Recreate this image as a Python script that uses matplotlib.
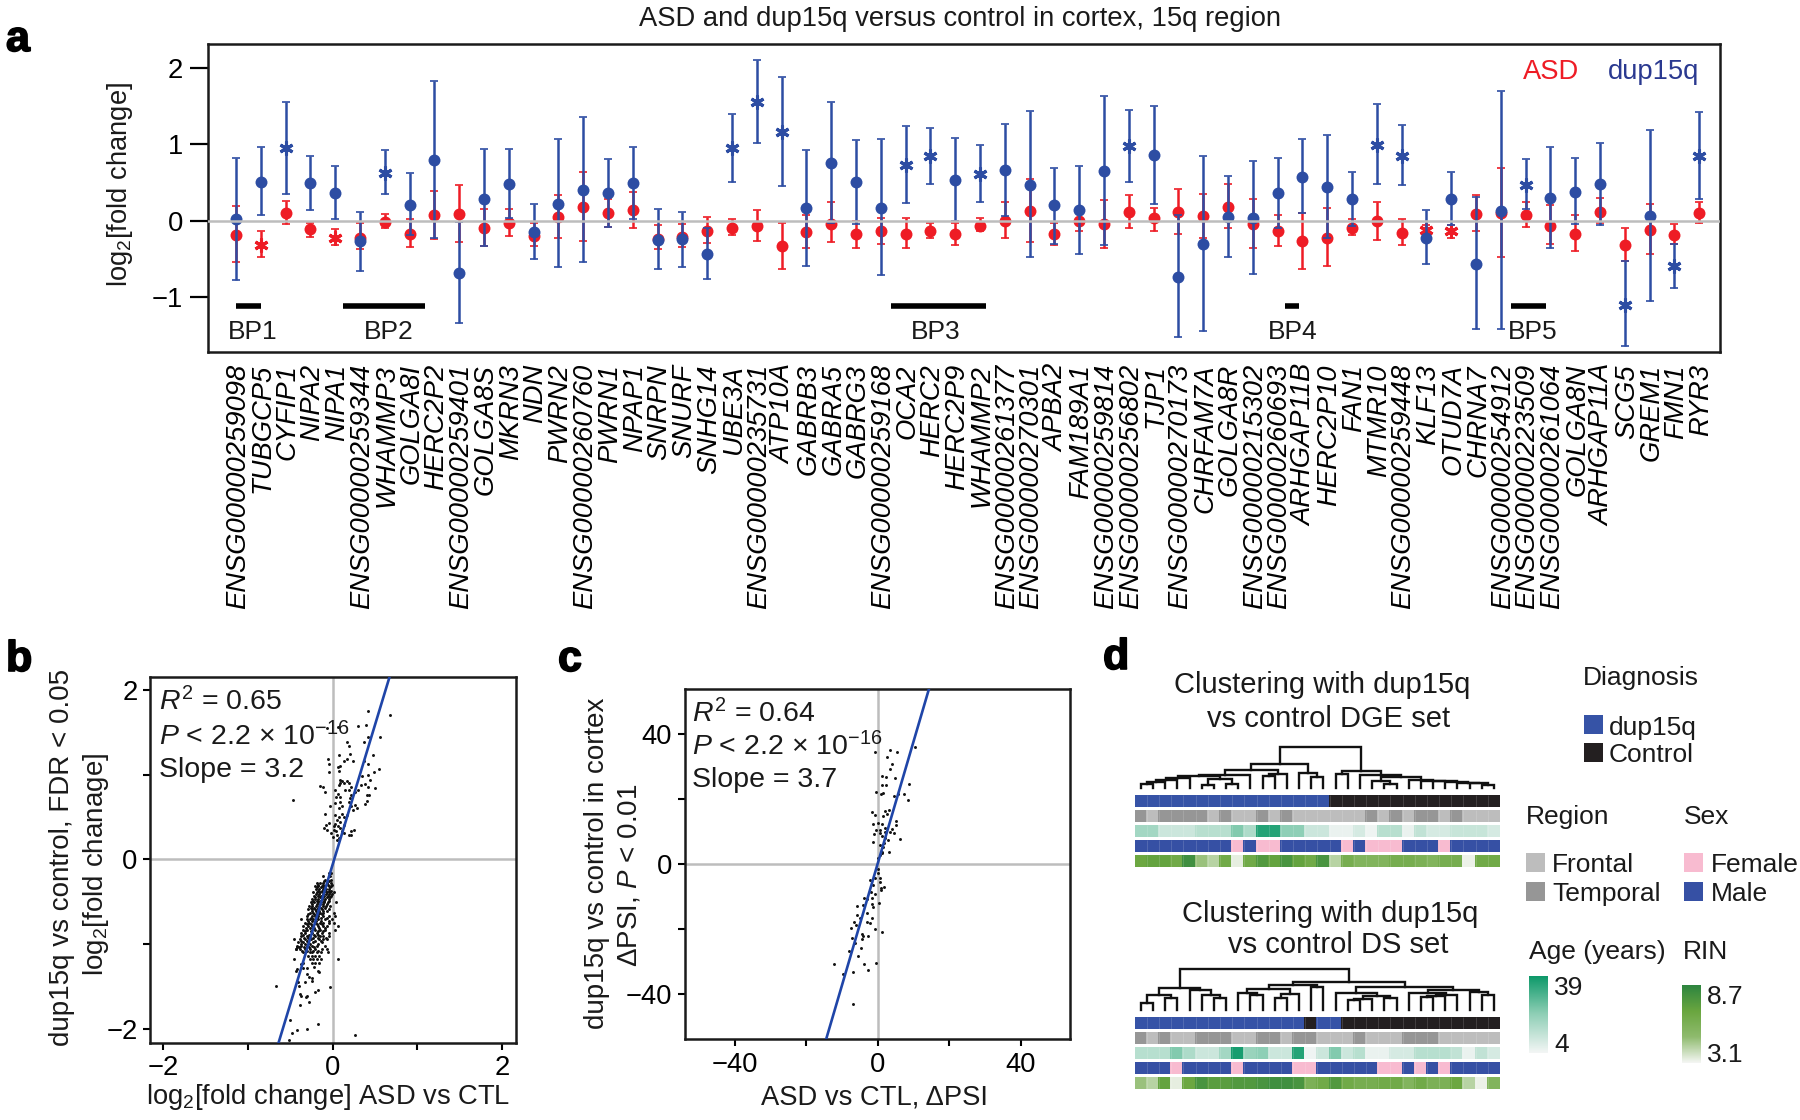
#!/usr/bin/env python

# ASD and dup15q versus control, 15q region: four panels

import numpy as np
import matplotlib
matplotlib.use('Agg')
from matplotlib import pyplot as plt
from matplotlib import patheffects
from matplotlib.colors import LinearSegmentedColormap, ListedColormap
from matplotlib.transforms import ScaledTranslation

plt.rcParams['font.family'] = ['Liberation Sans', 'DejaVu Sans']
plt.rcParams['mathtext.fontset'] = 'custom'
plt.rcParams['mathtext.rm'] = 'Liberation Sans'
plt.rcParams['mathtext.it'] = 'Liberation Sans:italic'
plt.rcParams['mathtext.bf'] = 'Liberation Sans:bold'

W, H = 1800, 1120
FS = 19.7
FS_KEY = 19

# panel a
genes = ['ENSG00000259098', 'TUBGCP5', 'CYFIP1', 'NIPA2', 'NIPA1', 'ENSG00000259344',
         'WHAMMP3', 'GOLGA8I', 'HERC2P2', 'ENSG00000259401', 'GOLGA8S', 'MKRN3', 'NDN',
         'PWRN2', 'ENSG00000260760', 'PWRN1', 'NPAP1', 'SNRPN', 'SNURF', 'SNHG14', 'UBE3A',
         'ENSG00000235731', 'ATP10A', 'GABRB3', 'GABRA5', 'GABRG3', 'ENSG00000259168',
         'OCA2', 'HERC2', 'HERC2P9', 'WHAMMP2', 'ENSG00000261377', 'ENSG00000270301',
         'APBA2', 'FAM189A1', 'ENSG00000259814', 'ENSG00000256802', 'TJP1',
         'ENSG00000270173', 'CHRFAM7A', 'GOLGA8R', 'ENSG00000215302', 'ENSG00000260693',
         'ARHGAP11B', 'HERC2P10', 'FAN1', 'MTMR10', 'ENSG00000259448', 'KLF13', 'OTUD7A',
         'CHRNA7', 'ENSG00000254912', 'ENSG00000223509', 'ENSG00000261064', 'GOLGA8N',
         'ARHGAP11A', 'SCG5', 'GREM1', 'FMN1', 'RYR3']

dup_mean = [0.02, 0.51, 0.95, 0.49, 0.36, -0.27, 0.63, 0.21, 0.79, -0.68, 0.29, 0.48, -0.15, 0.22,
            0.40, 0.36, 0.49, -0.25, -0.24, -0.43, 0.95, 1.55, 1.16, 0.16, 0.75, 0.50, 0.17, 0.73,
            0.84, 0.53, 0.61, 0.66, 0.47, 0.20, 0.14, 0.65, 0.98, 0.86, -0.73, -0.30, 0.05, 0.04,
            0.36, 0.57, 0.44, 0.28, 0.99, 0.85, -0.22, 0.28, -0.57, 0.13, 0.47, 0.30, 0.38, 0.48,
            -1.10, 0.06, -0.59, 0.84]
dup_hi = [0.82, 0.96, 1.55, 0.85, 0.72, 0.12, 0.92, 0.62, 1.82, -0.02, 0.94, 0.94, 0.22, 1.07,
          1.35, 0.81, 0.97, 0.15, 0.12, -0.09, 1.39, 2.10, 1.88, 0.92, 1.55, 1.05, 1.07, 1.24,
          1.21, 1.08, 0.99, 1.27, 1.44, 0.69, 0.72, 1.63, 1.45, 1.50, 0.08, 0.85, 0.59, 0.78,
          0.82, 1.07, 1.12, 0.64, 1.52, 1.25, 0.14, 0.64, 0.31, 1.69, 0.81, 0.97, 0.82, 1.02,
          -0.53, 1.19, -0.30, 1.42]
dup_lo = [-0.78, 0.07, 0.35, 0.14, 0.02, -0.66, 0.35, -0.19, -0.22, -1.34, -0.33, 0.03, -0.50, -0.61,
          -0.54, -0.08, 0.02, -0.63, -0.60, -0.76, 0.51, 1.02, 0.45, -0.59, -0.03, -0.04, -0.71, 0.23,
          0.48, 0.00, 0.25, 0.06, -0.48, -0.30, -0.44, -0.32, 0.51, 0.22, -1.52, -1.44, -0.48, -0.69,
          -0.10, 0.10, -0.22, -0.07, 0.48, 0.47, -0.56, -0.05, -1.42, -1.42, 0.15, -0.36, -0.04, -0.05,
          -1.64, -1.05, -0.88, 0.28]
asd_mean = [-0.19, -0.32, 0.10, -0.11, -0.22, -0.22, -0.02, -0.17, 0.07, 0.09, -0.10, -0.03, -0.20, 0.05,
            0.18, 0.10, 0.14, -0.24, -0.21, -0.13, -0.09, -0.07, -0.33, -0.15, -0.04, -0.18, -0.14, -0.17,
            -0.13, -0.18, -0.07, 0.00, 0.13, -0.17, -0.01, -0.04, 0.11, 0.03, 0.11, 0.06, 0.18, -0.04,
            -0.14, -0.27, -0.22, -0.09, -0.01, -0.16, -0.12, -0.14, 0.09, 0.10, 0.08, -0.07, -0.17, 0.12,
            -0.32, -0.12, -0.19, 0.10]
asd_hi = [0.19, -0.14, 0.26, -0.03, -0.11, -0.03, 0.09, 0.02, 0.39, 0.47, 0.15, 0.15, -0.03, 0.34,
          0.64, 0.29, 0.37, -0.06, -0.04, 0.05, 0.02, 0.14, -0.03, 0.07, 0.24, 0.00, 0.04, 0.03,
          -0.03, -0.03, 0.04, 0.25, 0.55, -0.03, 0.14, 0.27, 0.34, 0.17, 0.42, 0.35, 0.48, 0.29,
          0.07, 0.10, 0.17, 0.02, 0.24, 0.02, -0.06, -0.06, 0.34, 0.69, 0.25, 0.20, 0.07, 0.30,
          -0.10, 0.22, -0.04, 0.25]
asd_lo = [-0.54, -0.47, -0.04, -0.21, -0.32, -0.37, -0.10, -0.34, -0.24, -0.28, -0.33, -0.20, -0.33, -0.23,
          -0.26, -0.08, -0.09, -0.37, -0.34, -0.29, -0.19, -0.26, -0.63, -0.36, -0.28, -0.36, -0.30, -0.36,
          -0.22, -0.32, -0.14, -0.23, -0.28, -0.32, -0.14, -0.35, -0.10, -0.13, -0.17, -0.23, -0.10, -0.36,
          -0.33, -0.63, -0.59, -0.19, -0.25, -0.32, -0.17, -0.23, -0.14, -0.47, -0.08, -0.31, -0.40, -0.03,
          -0.53, -0.44, -0.30, -0.03]
dup_star = [2, 6, 20, 21, 22, 27, 28, 30, 36, 46, 47, 52, 56, 58, 59]
asd_star = [1, 4, 48, 49]

bp_names = ['BP1', 'BP2', 'BP3', 'BP4', 'BP5']
bp_start = [0.0, 4.3, 26.4, 42.3, 51.4]
bp_end = [1.0, 7.64, 30.26, 42.88, 52.84]
bp_label = [0.67, 6.17, 28.2, 42.6, 52.3]

# panel b
b_up_x = [.41, .67, .06, -.07, .30, .39, .41, .56, .37, .17, .19, .20, .07, .48, -.06, -.05, -.05, .17, .13,
          .24, .37, .42, .08, .06, .07, .54, .49, .42, .35, .44, -.15, -.12, -.09, -.47, .09, .11, .08, .07,
          .13, .17, .19, .21, .03, .06, .09, .15, .19, .22, .20, .30, .26, .38, .41, .50, .33, .40, .43, .40,
          .38, .04, .09, .03, -.03, .11, .07, .19, .21, .26, .29, .24, -.09, .03, .07, .11, .13, .17, .05,
          .09, -.05, -.08, -.10, -.07, .03, .06, .02, .08, .13, -.02, 0.0, .05, .07, .05, .11, .13, .19, .25,
          .21, .22, .04, .01]
b_up_y = [1.75, 1.71, 1.56, 1.55, 1.57, 1.59, 1.45, 1.44, 1.38, 1.38, 1.34, 1.24, 1.23, 1.23, 1.18, 1.12, 1.03,
          1.19, 1.16, 1.16, 1.16, 1.13, 1.10, 1.09, 1.04, 1.07, 1.03, 1.00, .98, .94, .87, .85, .80, .70, .94,
          .92, .90, .88, .90, .93, .90, .85, .82, .77, .74, .82, .82, .76, .72, .82, .80, .89, .85, .84, .88,
          .76, .76, .69, .65, .74, .68, .66, .63, .63, .60, .68, .63, .64, .61, .58, .54, .52, .50, .54, .50,
          .52, .46, .44, .43, .41, .37, .35, .42, .39, .35, .37, .41, .31, .26, .29, .25, .23, .33, .31, .29,
          .35, .33, .29, .33, .39]

# lower cloud of panel b, read row by row: one y value, the x values at that height
b_low_rows_y = [-.16, -.20, -.24, -.28, -.31, -.35, -.39, -.43, -.47, -.51, -.55, -.59, -.63, -.67, -.71, -.75,
                -.79, -.83, -.87, -.91, -.94, -.98, -1.02, -1.06, -1.10, -1.14, -1.18, -1.22]
b_low_rows_x = [[-.05, -.02], [-.11, -.05, -.03], [-.09, -.02],
                [-.19, -.15, -.11, -.07, -.02], [-.21, -.17, -.13, -.09, -.05, -.02],
                [-.20, -.16, -.12, -.08, -.04], [-.23, -.19, -.15, -.11, -.07, -.03, .02],
                [-.22, -.18, -.14, -.10, -.06, -.02], [-.25, -.21, -.17, -.13, -.09, -.05],
                [-.26, -.22, -.18, -.14, -.10, -.06, .04], [-.28, -.24, -.20, -.16, -.12, -.08, -.03],
                [-.29, -.25, -.21, -.17, -.13, -.05], [-.27, -.23, -.19, -.15, -.11, .02],
                [-.30, -.25, -.21, -.17, -.12, -.05, .03], [-.37, -.31, -.27, -.23, -.17, -.09, -.01],
                [-.33, -.28, -.21, -.15, -.11, -.05, .02], [-.35, -.29, -.24, -.18, -.12, -.07, .06],
                [-.35, -.30, -.21, -.15, -.09, .03], [-.38, -.33, -.25, -.19, -.13, -.05],
                [-.37, -.31, -.27, -.21, -.15, -.11, -.05], [-.46, -.39, -.33, -.26, -.16, -.12, -.07],
                [-.41, -.35, -.29, -.23, -.13], [-.42, -.37, -.31, -.25, -.19, -.09],
                [-.44, -.39, -.33, -.27, -.21, -.13, -.07], [-.35, -.27, -.24, -.19, -.14, -.06],
                [-.29, -.25, -.21, -.16], [-.46, -.27, -.23, -.19, -.14], [-.35, -.25, -.21, -.16]]
# second pass over the darkest part of the cloud
b_dense_y = [-.26, -.30, -.33, -.37, -.41, -.45, -.49, -.53, -.57, -.61, -.65, -.69, -.73, -.77, -.81, -.85, -.89,
             -.93, -.96, -1.00, -1.04, -1.08]
b_dense_x = [[-.10, -.04], [-.17, -.12, -.06, -.01], [-.19, -.14, -.10, -.03], [-.18, -.13, -.09, -.05, -.02],
             [-.20, -.16, -.12, -.08, -.04, -.01], [-.21, -.15, -.11, -.07, -.03], [-.23, -.19, -.15, -.10, -.04],
             [-.24, -.19, -.15, -.11, -.07], [-.26, -.22, -.18, -.14, -.09], [-.24, -.20, -.16, -.12, -.07],
             [-.29, -.22, -.18, -.13], [-.26, -.19, -.14, -.07], [-.29, -.25, -.20, -.14, -.04],
             [-.31, -.26, -.19, -.13], [-.32, -.27, -.22, -.16, -.09], [-.33, -.26, -.18, -.11],
             [-.35, -.28, -.22, -.17], [-.34, -.29, -.23, -.17, -.08], [-.37, -.30, -.21, -.14],
             [-.38, -.33, -.27, -.18], [-.40, -.34, -.28, -.22], [-.36, -.30, -.23, -.17]]
b_out_x = [-.67, .06, -.03, -.50, -.18, -.30, -.42, -.48, .26, -.52, -.39, -.28, -.21, -.18, -.39, -.37, -.32,
           -.31, -.40, -.41, -.33, -.25, -.28, -.25, -.30, -.44, -.42, -.37, -.35, -.30, -.22, -.18, -.16, -.43, -.42]
b_out_y = [-1.50, -1.18, -1.51, -1.90, -1.94, -2.00, -2.02, -2.05, -2.07, -2.14, -1.72, -1.69, -1.57, -1.54, -1.59,
           -1.62, -1.63, -1.61, -1.50, -1.45, -1.45, -1.44, -1.39, -1.40, -1.36, -1.32, -1.30, -1.24, -1.28, -1.28,
           -1.27, -1.32, -1.33, -1.06, -1.03]
b_fit_x = [-0.64, 0.672]
b_fit_y = [-2.166, 2.16]

# panel c
c_x = [-.9, 3.5, 5.4, 2.5, 4.1, 3.3, 10.3, 1.3, 2.3, 4.9, 8.8, 1.1, 2.3, -.4, 1.4, 1.0, 4.4, 5.6, 7.3, 8.4, -1.6, -.8,
       2.0, 3.1, 2.7, 1.6, 5.1, 5.1, -1.3, 1.1, .2, 2.1, .7, -.6, -1.1, .5, 3.9, 4.6, 3.5, 2.1, 1.1, 2.1, 3.0, 6.3, -1.3,
       1.8, .7, 1.4, 3.1, 1.1, .7, 1.3, .2, .2, .2, .5, -2.3, -.7, -1.4, .7, 1.8, .9, 1.0, -1.9, -.9, -1.5, -3.8, -2.9, .4,
       -1.7, -1.4, -5.9, -4.0, -3.1, -1.6, -5.7, -5.1, -6.7, -2.9, -2.1, -6.0, -7.4, -.9, 1.3, -4.5, -4.0, -2.6, -7.3, -4.5,
       -6.3, -4.7, -8.0, -5.5, -12.2, -3.8, -.6, -9.8, -6.8, -2.8, -7.0]
c_y = [34.5, 35.2, 34.4, 33.1, 30.8, 29.2, 36.0, 27.2, 26.8, 26.4, 24.7, 24.2, 24.2, 22.3, 22.0, 21.5, 21.0, 21.6, 21.6, 19.7,
       16.0, 15.1, 16.3, 16.5, 15.3, 14.8, 13.2, 12.0, 12.3, 12.2, 12.7, 11.0, 10.5, 10.5, 9.2, 9.4, 10.7, 9.4, 10.0, 9.8, 8.6,
       7.9, 7.4, 7.6, 6.9, 6.4, 5.9, 5.3, 3.8, 3.8, 2.8, 3.3, 1.7, -1.5, -2.9, -4.2, -4.8, -4.2, -6.5, -5.4, -7.2, -8.0, -7.5,
       -8.5, -9.3, -10.4, -10.6, -10.8, -12.1, -12.3, -13.2, -12.8, -12.6, -15.2, -16.5, -15.8, -16.5, -18.0, -18.0, -18.3, -18.8,
       -19.6, -20.1, -21.0, -21.7, -22.2, -22.3, -22.7, -23.1, -24.4, -26.0, -26.7, -28.2, -30.7, -30.8, -30.5, -34.0, -33.2,
       -32.8, -43.1]
c_fit_x = [-14.4, 14.3]
c_fit_y = [-53.9, 53.9]

# panel d, upper block. Diagnosis 0 dup15q 1 control, region 0 frontal 1 temporal, sex 0 female 1 male
d1_diag = [0] * 16 + [1] * 14
d1_region = [1, 0, 1, 1, 1, 1, 0, 1, 0, 0, 1, 0, 1, 0, 0, 0, 0, 0, 0, 1, 0, 1, 0, 1, 1, 0, 1, 0, 0, 0]
d1_age = [.4, .4, .2, .2, .2, .3, .3, .3, .55, .35, .9, .9, .5, .5, .2, .2, .05, .05, .15, .03, .3, .3, .05, .25, .15, .15,
          .22, .22, .22, .15]
d1_sex = [1, 1, 1, 1, 1, 1, 1, 1, 0, 1, 0, 0, 1, 1, 1, 1, 1, 0, 1, 0, 0, 0, 1, 1, 1, 0, 1, 1, 1, 1]
d1_rin = [.65, .7, .7, .6, .9, .3, .2, .6, .05, .6, .8, .7, .85, .7, .6, .85, .2, .55, .45, .45, .45, .55, .55, .5, .45, .55,
          .55, .03, .6, .6]
# panel d, lower block
d2_diag = [0] * 14 + [1] + [0] * 2 + [1] * 13
d2_region = [1, 0, 1, 0, 0, 1, 1, 1, 0, 0, 1, 1, 0, 1, 1, 0, 0, 0, 1, 0, 0, 0, 1, 1, 1, 0, 0, 0, 0, 0]
d2_age = [.3, .3, .3, .55, .35, .2, .2, .4, .95, .45, .5, .2, .2, .9, .02, .2, .55, .2, .3, .05, .05, .15, .15, .3, .3, .3,
          .25, .05, .25, .15]
d2_sex = [1, 1, 1, 0, 1, 1, 1, 1, 0, 1, 1, 1, 1, 0, 0, 1, 1, 1, 1, 1, 0, 0, 1, 0, 1, 0, 1, 1, 1, 1]
d2_rin = [.3, .2, .7, .05, .65, .85, .75, .75, .8, .8, .85, .9, .9, .85, .5, .6, .8, .6, .55, .55, .6, .6, .45, .6, .5, .5,
          .65, .2, .03, .45]

# dendrogram merges: left column, right column, height, left child height, right child height
d1_links = [(0, 1, 12, 0, 0), (.5, 2, 18, 12, 0), (1.25, 3, 24, 18, 0), (2.1, 4, 30, 24, 0), (5, 6, 10, 0, 0), (7, 8, 12, 0, 0),
            (5.5, 7.5, 28, 10, 12), (3.05, 6.5, 36, 30, 28), (4.78, 9, 38, 36, 0), (10, 11, 36, 0, 0), (10.5, 12, 42, 36, 0),
            (6.9, 11.25, 55, 38, 42), (14, 15, 32, 0, 0), (13, 14.5, 45, 0, 32), (9.05, 13.75, 73, 55, 45), (16, 17, 42, 0, 0),
            (20, 21, 12, 0, 0), (19, 20.5, 20, 0, 12), (28, 29, 10, 0, 0), (27, 28.5, 14, 0, 10), (26, 27.75, 16, 0, 14),
            (25, 26.9, 18, 0, 16), (24, 25.95, 20, 0, 18), (23, 25, 22, 0, 20), (22, 24, 25, 0, 22), (19.75, 23, 33, 20, 25),
            (18, 21.4, 40, 0, 33), (16.5, 19.7, 50, 42, 40), (11.4, 18.1, 123, 73, 50)]
d2_links = [(0, 1, 22, 0, 0), (2, 3, 35, 0, 0), (.5, 2.5, 45, 22, 35), (6, 7, 35, 0, 0), (5, 6.5, 45, 0, 35), (4, 5.75, 60, 0, 45),
            (1.5, 4.875, 65, 45, 60), (9, 10, 46, 0, 0), (8, 9.5, 50, 0, 46), (11, 12, 35, 0, 0), (11.5, 13, 48, 35, 0),
            (8.75, 12.25, 62, 50, 48), (14, 15, 70, 0, 0), (10.5, 14.5, 76, 62, 70), (17, 18, 30, 0, 0), (17.5, 19, 33, 30, 0),
            (20, 21, 35, 0, 0), (18.25, 20.5, 42, 33, 35), (16, 19.4, 50, 0, 42), (23, 24, 38, 0, 0), (23.5, 25, 42, 38, 0),
            (24.25, 26, 46, 42, 0), (22, 25.1, 50, 0, 46), (28, 29, 45, 0, 0), (27, 28.5, 55, 0, 45), (23.55, 27.75, 60, 50, 55),
            (17.7, 25.65, 68, 50, 60), (12.5, 21.7, 85, 76, 68), (3.19, 17.1, 123, 65, 85)]

BLUE = '#2d4da3'
RED = '#ee1c25'
GREY = '#bdbdbd'
DUP = '#3653a6'
CTRL = '#231f20'
FRONTAL = '#bdbdbd'
TEMPORAL = '#969696'
FEMALE = '#f8bbd0'
MALE = '#3650a4'

age_cmap = LinearSegmentedColormap.from_list('age', ['#f3f6f5', '#8fcfb6', '#0b9868'])
rin_cmap = LinearSegmentedColormap.from_list('rin', ['#f4f6f3', '#8fbb6e', '#6aa63f', '#2e8540'])

fig = plt.figure(figsize=(W / 100, H / 100), dpi=100)


def px_axes(left, top, right, bottom):
    return fig.add_axes([left / W, 1 - bottom / H, (right - left) / W, (bottom - top) / H])


def px_text(x, y, s, **kwargs):
    kwargs.setdefault('fontsize', FS)
    kwargs.setdefault('va', 'center')
    kwargs.setdefault('color', '#1a1a1a')
    return fig.text(x / W, 1 - (y + 2) / H, s, **kwargs)


def panel_letter(x, y, s):
    t = px_text(x, y, s, fontsize=31, fontweight='bold', color='black')
    t.set_path_effects([patheffects.withStroke(linewidth=1.2, foreground='black')])


def frame(ax, lw=1.8):
    for s in ax.spines.values():
        s.set_linewidth(lw)
        s.set_color('#1a1a1a')


def draw_errors(ax, x, mean, lo, hi, stars, color, z):
    x = np.asarray(x)
    mean, lo, hi = np.asarray(mean), np.asarray(lo), np.asarray(hi)
    is_star = np.isin(x, stars)
    ax.errorbar(x, mean, yerr=[mean - lo, hi - mean], fmt='none', ecolor=color, elinewidth=1.8,
                capsize=3, capthick=1.2, zorder=z)
    ax.plot(x[~is_star], mean[~is_star], 'o', color=color, ms=8.6, mew=0, zorder=z)
    ax.plot(x[is_star], mean[is_star], ls='none', marker=(6, 2, 0), color=color, ms=10, mew=2.2, zorder=z)
    ax.plot(x[is_star], mean[is_star], 'o', color=color, ms=5.5, mew=0, zorder=z)


# panel a
ax = px_axes(208, 44, 1720, 351.7)
idx = np.arange(len(genes))
draw_errors(ax, idx, asd_mean, asd_lo, asd_hi, asd_star, RED, 3)
draw_errors(ax, idx, dup_mean, dup_lo, dup_hi, dup_star, BLUE, 4)
ax.axhline(0, color=GREY, lw=1.8, zorder=5)
for name, start, end, lab in zip(bp_names, bp_start, bp_end, bp_label):
    ax.plot([start, end], [-1.115, -1.115], color='black', lw=4, solid_capstyle='butt')
    ax.text(lab, -1.45, name, ha='center', va='center', fontsize=FS_KEY, color='#1a1a1a')
ax.set_xlim(-1.125, 59.84)
ax.set_ylim(-1.712, 2.31)
ax.set_yticks([-1, 0, 1, 2])
ax.set_yticklabels(['\u22121', '0', '1', '2'], fontsize=FS)
ax.tick_params(axis='y', length=13, width=1.6, pad=5)
ax.set_xticks(idx)
ax.set_xticklabels(genes, rotation=90, style='italic', fontsize=FS, ha='center', va='top')
ax.tick_params(axis='x', length=0, pad=9)
shift = ScaledTranslation(1.5 / 72, 0, fig.dpi_scale_trans)
for label in ax.get_xticklabels():
    label.set_transform(label.get_transform() + shift)
frame(ax)
ax.text(0.888, 0.91, 'ASD', color=RED, transform=ax.transAxes, ha='center', va='center', fontsize=FS)
ax.text(0.956, 0.91, 'dup15q', color='#2a3990', transform=ax.transAxes, ha='center', va='center', fontsize=FS)
px_text(960, 17, 'ASD and dup15q versus control in cortex, 15q region', ha='center')
px_text(120, 182, 'log$_2$[fold change]', rotation=90, ha='center')
panel_letter(6, 38, 'a')

# panel b
ax = px_axes(150, 677, 516, 1042.7)
ax.axhline(0, color=GREY, lw=1.8, zorder=1)
ax.axvline(0, color=GREY, lw=1.8, zorder=1)
low_x = np.concatenate(b_low_rows_x + b_dense_x)
low_y = np.concatenate([[y] * len(r) for y, r in zip(b_low_rows_y + b_dense_y, b_low_rows_x + b_dense_x)])
ax.scatter(b_up_x, b_up_y, s=4.5, color='#111111', lw=0, zorder=2)
ax.scatter(low_x, low_y, s=4.5, color='#111111', lw=0, zorder=2)
ax.scatter(b_out_x, b_out_y, s=4.5, color='#111111', lw=0, zorder=2)
ax.plot(b_fit_x, b_fit_y, color='#1f45a8', lw=1.9, zorder=3)
ax.set_xlim(-2.158, 2.163)
ax.set_ylim(-2.166, 2.153)
ax.set_xticks([-2, -1, 0, 1, 2])
ax.set_xticklabels(['\u22122', '', '0', '', '2'], fontsize=FS)
ax.set_yticks([-2, -1, 0, 1, 2])
ax.set_yticklabels(['\u22122', '', '0', '', '2'], fontsize=FS)
ax.tick_params(length=5, width=1.5, pad=4)
frame(ax)
px_text(159, 700, '$\\mathit{R}^2$ = 0.65', fontsize=20.5)
px_text(159, 735, '$\\mathit{P}$ < 2.2 \u00d7 10$^{\u221216}$', fontsize=20.5)
px_text(159, 768, 'Slope = 3.2', fontsize=20.5)
px_text(62, 855, 'dup15q vs control, FDR < 0.05', rotation=90, ha='center', fontsize=20)
px_text(96, 862, 'log$_2$[fold chanage]', rotation=90, ha='center', fontsize=20)
px_text(328, 1095, 'log$_2$[fold change] ASD vs CTL', ha='center')
panel_letter(6, 658, 'b')

# panel c
ax = px_axes(684.8, 689, 1070, 1039)
ax.axhline(0, color=GREY, lw=1.8, zorder=1)
ax.axvline(0, color=GREY, lw=1.8, zorder=1)
ax.scatter(c_x, c_y, s=4.5, color='#111111', lw=0, zorder=2)
ax.plot(c_fit_x, c_fit_y, color='#1f45a8', lw=1.9, zorder=3)
ax.set_xlim(-53.9, 53.7)
ax.set_ylim(-53.9, 53.9)
ax.set_xticks([-40, -20, 0, 20, 40])
ax.set_xticklabels(['\u221240', '', '0', '', '40'], fontsize=FS)
ax.set_yticks([-40, -20, 0, 20, 40])
ax.set_yticklabels(['\u221240', '', '0', '', '40'], fontsize=FS)
ax.tick_params(length=5, width=1.5, pad=4)
frame(ax)
px_text(692, 712, '$\\mathit{R}^2$ = 0.64', fontsize=20.5)
px_text(692, 745, '$\\mathit{P}$ < 2.2 \u00d7 10$^{\u221216}$', fontsize=20.5)
px_text(692, 778, 'Slope = 3.7', fontsize=20.5)
px_text(597, 861, 'dup15q vs control in cortex', rotation=90, ha='center', fontsize=20)
px_text(630, 873, '\u0394PSI, $\\mathit{P}$ < 0.01', rotation=90, ha='center', fontsize=20)
px_text(874, 1095, 'ASD vs CTL, \u0394PSI', ha='center')
panel_letter(558, 658, 'c')


# panel d
def draw_strip(top, values, cmap, vmin=0, vmax=1):
    ax = px_axes(1134.8, top, 1500, top + 12)
    ax.pcolormesh(np.arange(len(values) + 1), [0, 1], [values], cmap=cmap, vmin=vmin, vmax=vmax,
                  edgecolors='face', linewidth=0.3)
    ax.vlines(np.arange(1, len(values)), 0, 1, color='white', lw=0.5, alpha=0.2)
    ax.axis('off')


def draw_block(top, diag, region, age, sex, rin):
    draw_strip(top, diag, ListedColormap([DUP, CTRL]))
    draw_strip(top + 15, region, ListedColormap([FRONTAL, TEMPORAL]))
    draw_strip(top + 30, age, age_cmap)
    draw_strip(top + 45, sex, ListedColormap([FEMALE, MALE]))
    draw_strip(top + 60, rin, rin_cmap)


def draw_dendrogram(top, bottom, links):
    ax = px_axes(1134.8, top, 1500, bottom)
    for xl, xr, h, hl, hr in links:
        ax.plot([xl + .5, xl + .5, xr + .5, xr + .5], [hl, h, h, hr], color='#111111', lw=1.7,
                solid_joinstyle='miter', clip_on=False)
    ax.set_xlim(0, 30)
    ax.set_ylim(0, 123)
    ax.axis('off')


def swatch(x, y, color):
    ax = px_axes(x, y, x + 19, y + 19)
    ax.set_facecolor(color)
    ax.set_xticks([])
    ax.set_yticks([])
    for s in ax.spines.values():
        s.set_visible(False)


def colorbar(left, top, right, bottom, cmap):
    ax = px_axes(left, top, right, bottom)
    ax.imshow(np.linspace(1, 0, 100)[:, None], cmap=cmap, aspect='auto')
    ax.axis('off')


draw_dendrogram(747, 788, d1_links)
draw_block(795, d1_diag, d1_region, d1_age, d1_sex, d1_rin)
draw_dendrogram(969, 1010, d2_links)
draw_block(1017.3, d2_diag, d2_region, d2_age, d2_sex, d2_rin)

px_text(1322, 683, 'Clustering with dup15q', ha='center', fontsize=21)
px_text(1329, 717, 'vs control DGE set', ha='center', fontsize=21)
px_text(1330, 912, 'Clustering with dup15q', ha='center', fontsize=21)
px_text(1338, 943, 'vs control DS set', ha='center', fontsize=21)
px_text(1583, 676, 'Diagnosis', fontsize=FS_KEY)
swatch(1583.5, 715, DUP)
px_text(1609, 726, 'dup15q', fontsize=FS_KEY)
swatch(1583.5, 743, CTRL)
px_text(1609, 753, 'Control', fontsize=FS_KEY)
px_text(1526, 815, 'Region', fontsize=FS_KEY)
px_text(1684, 815, 'Sex', fontsize=FS_KEY)
swatch(1526, 853, FRONTAL)
px_text(1552, 863, 'Frontal', fontsize=FS_KEY)
swatch(1526, 882, TEMPORAL)
px_text(1552, 892, 'Temporal', fontsize=FS_KEY)
swatch(1684, 853, FEMALE)
px_text(1711, 863, 'Female', fontsize=FS_KEY)
swatch(1684, 882, MALE)
px_text(1711, 892, 'Male', fontsize=FS_KEY)
px_text(1528.6, 950, 'Age (years)', fontsize=FS_KEY)
px_text(1682.6, 950, 'RIN', fontsize=FS_KEY)
colorbar(1528.6, 975.7, 1547, 1053, age_cmap)
px_text(1554, 986, '39', fontsize=FS_KEY)
px_text(1554, 1043, '4', fontsize=FS_KEY)
colorbar(1681.7, 985, 1700, 1062.7, rin_cmap)
px_text(1707, 995, '8.7', fontsize=FS_KEY)
px_text(1707, 1053, '3.1', fontsize=FS_KEY)
panel_letter(1103, 656, 'd')

fig.savefig('out.png', dpi=100)
